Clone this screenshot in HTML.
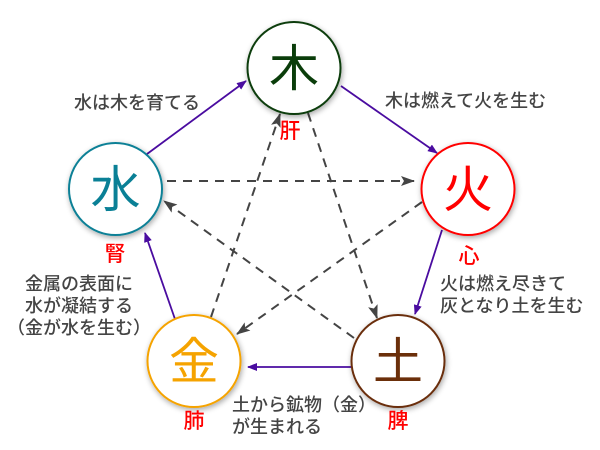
<!DOCTYPE html>
<html><head><meta charset="utf-8"><style>
html,body{margin:0;padding:0;background:#fff;width:600px;height:450px;overflow:hidden}
svg{display:block}
text{font-family:"Liberation Sans","Noto Sans CJK JP",sans-serif}
</style></head><body>
<svg width="600" height="450" viewBox="0 0 600 450" xmlns="http://www.w3.org/2000/svg">
<defs>
<marker id="ap" markerWidth="10" markerHeight="8" refX="9" refY="4" orient="auto" markerUnits="userSpaceOnUse"><path d="M0,0 L10,4 L0,8 Z" fill="#4a0ca0"/></marker>
<marker id="ad" markerWidth="14" markerHeight="10" refX="13" refY="5" orient="auto" markerUnits="userSpaceOnUse"><path d="M0,0 L14,5 L0,10 L3,5 Z" fill="#444"/></marker>
<filter id="sh" x="-30%" y="-30%" width="160%" height="160%"><feGaussianBlur in="SourceAlpha" stdDeviation="3"/><feOffset dx="1" dy="2"/><feComponentTransfer><feFuncA type="linear" slope="0.35"/></feComponentTransfer><feMerge><feMergeNode/><feMergeNode in="SourceGraphic"/></feMerge></filter>
</defs>
<g stroke="#444" stroke-width="2" stroke-dasharray="9,7" fill="none" marker-end="url(#ad)">
<line x1="167" y1="181" x2="414" y2="181"/>
<line x1="211" y1="317" x2="280" y2="114"/>
<line x1="308" y1="113" x2="377" y2="318"/>
<line x1="354" y1="338" x2="164" y2="201"/>
<line x1="422" y1="202" x2="237" y2="334"/>
</g>
<g stroke="#4a0ca0" stroke-width="1.8" fill="none" marker-end="url(#ap)">
<line x1="147" y1="154" x2="246" y2="81"/>
<line x1="341" y1="86" x2="437" y2="153"/>
<line x1="442" y1="230" x2="415" y2="314"/>
<line x1="351" y1="367" x2="248" y2="367"/>
<line x1="176" y1="322" x2="145" y2="233"/>
</g>
<g filter="url(#sh)" fill="#fff" stroke-width="2">
<ellipse cx="294" cy="68" rx="46.5" ry="46" stroke="#0a3d0a"/>
<ellipse cx="115.5" cy="189" rx="46.5" ry="46" stroke="#0a8096"/>
<ellipse cx="468" cy="189" rx="46.5" ry="46" stroke="#f00"/>
<ellipse cx="194" cy="361" rx="46.5" ry="46" stroke="#f5a300"/>
<ellipse cx="398" cy="361" rx="46.5" ry="46" stroke="#6b2f0a"/>
</g>
<g font-size="50" text-anchor="middle">
<text x="294" y="86" fill="#0a3d0a">木</text>
<text x="115.5" y="207" fill="#0a8096">水</text>
<text x="468" y="207" fill="#f00">火</text>
<text x="194" y="379" fill="#f5a300">金</text>
<text x="398" y="379" fill="#6b2f0a">土</text>
</g>
<g font-size="21" text-anchor="middle" fill="#f00" font-weight="500">
<text x="290" y="138">肝</text>
<text x="115" y="261">腎</text>
<text x="469" y="263">心</text>
<text x="194" y="428">肺</text>
<text x="398" y="428">脾</text>
</g>
<g font-size="18" fill="#444" font-weight="500">
<text x="74" y="109">水は木を育てる</text>
<text x="385" y="107">木は燃えて火を生む</text>
<text x="79" y="290" text-anchor="middle">金属の表面に</text>
<text x="79" y="312" text-anchor="middle">水が凝結する</text>
<text x="79" y="334" text-anchor="middle">（金が水を生む）</text>
<text x="440" y="290">火は燃え尽きて</text>
<text x="440" y="312">灰となり土を生む</text>
<text x="232" y="411">土から鉱物（金）</text>
<text x="232" y="433">が生まれる</text>
</g>
</svg>
</body></html>
